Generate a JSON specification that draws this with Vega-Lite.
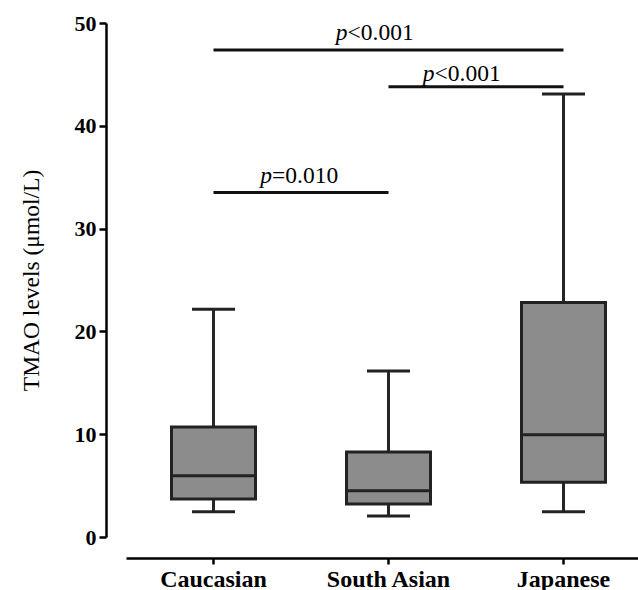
{
  "$schema": "https://vega.github.io/schema/vega-lite/v6.json",
  "autosize": {"type": "none"},
  "padding": {"left": 126, "top": 23, "right": 0, "bottom": 53},
  "width": 512,
  "height": 514,
  "background": "white",
  "datasets": {
    "boxes": [
      {"group": "Caucasian", "min": 2.45, "q1": 3.7, "median": 5.95, "q3": 10.7, "max": 22.15},
      {"group": "South Asian", "min": 2.05, "q1": 3.2, "median": 4.5, "q3": 8.27, "max": 16.15},
      {"group": "Japanese", "min": 2.45, "q1": 5.32, "median": 9.95, "q3": 22.8, "max": 43.1}
    ],
    "sig": [
      {"id": "a", "from": "Caucasian", "to": "South Asian", "line": 33.5, "text": 34.45, "p": "p", "rest": "=0.010"},
      {"id": "b", "from": "Caucasian", "to": "Japanese", "line": 47.37, "text": 48.35, "p": "p", "rest": "<0.001"},
      {"id": "c", "from": "South Asian", "to": "Japanese", "line": 43.8, "text": 44.39, "p": "p", "rest": "<0.001"}
    ]
  },
  "encoding": {
    "x": {
      "field": "group",
      "type": "nominal",
      "sort": ["Caucasian", "South Asian", "Japanese"],
      "scale": {"domain": ["Caucasian", "South Asian", "Japanese"], "range": [0, 525], "paddingInner": 0, "paddingOuter": 0},
      "axis": {
        "title": null,
        "labelAngle": 0,
        "labelFont": "Liberation Serif",
        "labelFontWeight": "bold",
        "labelFontSize": 24,
        "labelColor": "#000000",
        "labelPadding": 3,
        "tickSize": 6,
        "tickWidth": 2.5,
        "tickColor": "#000000",
        "domainColor": "#000000",
        "domainWidth": 2.5,
        "offset": 21
      }
    }
  },
  "layer": [
    {
      "data": {"name": "boxes"},
      "mark": {"type": "rule", "strokeWidth": 3, "color": "#262626"},
      "encoding": {
        "y": {
          "field": "min",
          "type": "quantitative",
          "scale": {"domain": [0, 50], "nice": false},
          "axis": {
            "values": [0, 10, 20, 30, 40, 50],
            "title": "TMAO levels (μmol/L)",
            "titleFont": "Liberation Serif",
            "titleFontSize": 23.5,
            "titleFontWeight": "normal",
            "titleColor": "#000000",
            "titlePadding": 31,
            "labelFont": "Liberation Serif",
            "labelFontWeight": "bold",
            "labelFontSize": 22,
            "labelColor": "#000000",
            "labelPadding": 3,
            "tickSize": 7,
            "tickWidth": 2.5,
            "tickColor": "#000000",
            "domainColor": "#000000",
            "domainWidth": 2.5,
            "grid": false,
            "offset": 20
          }
        },
        "y2": {"field": "max"}
      }
    },
    {
      "data": {"name": "boxes"},
      "mark": {"type": "bar", "width": 84, "fill": "#8c8c8c", "stroke": "#222222", "strokeWidth": 3},
      "encoding": {
        "y": {"field": "q1", "type": "quantitative"},
        "y2": {"field": "q3"}
      }
    },
    {
      "data": {"name": "boxes"},
      "mark": {"type": "tick", "size": 86, "thickness": 3, "color": "#222222", "opacity": 1},
      "encoding": {"y": {"field": "median", "type": "quantitative"}}
    },
    {
      "data": {"name": "boxes"},
      "mark": {"type": "tick", "size": 43, "thickness": 3, "color": "#222222", "opacity": 1},
      "encoding": {"y": {"field": "min", "type": "quantitative"}}
    },
    {
      "data": {"name": "boxes"},
      "mark": {"type": "tick", "size": 43, "thickness": 3, "color": "#222222", "opacity": 1},
      "encoding": {"y": {"field": "max", "type": "quantitative"}}
    },
    {
      "data": {"name": "sig"},
      "mark": {"type": "rule", "strokeWidth": 3, "color": "#111111"},
      "encoding": {
        "x": {"field": "from", "type": "nominal"},
        "x2": {"field": "to"},
        "y": {"field": "line", "type": "quantitative"}
      }
    },
    {
      "data": {"name": "sig"},
      "transform": [{"filter": "datum.id === 'a'"}],
      "layer": [
        {
          "mark": {"type": "text", "font": "Liberation Serif", "fontSize": 23.5, "fontStyle": "italic", "align": "right", "baseline": "alphabetic", "dx": -29, "color": "#000000"},
          "encoding": {
            "x": {"field": "from", "type": "nominal", "bandPosition": 1},
            "y": {"field": "text", "type": "quantitative"},
            "text": {"field": "p"}
          }
        },
        {
          "mark": {"type": "text", "font": "Liberation Serif", "fontSize": 23.5, "align": "left", "baseline": "alphabetic", "dx": -29, "color": "#000000"},
          "encoding": {
            "x": {"field": "from", "type": "nominal", "bandPosition": 1},
            "y": {"field": "text", "type": "quantitative"},
            "text": {"field": "rest"}
          }
        }
      ]
    },
    {
      "data": {"name": "sig"},
      "transform": [{"filter": "datum.id === 'b'"}],
      "layer": [
        {
          "mark": {"type": "text", "font": "Liberation Serif", "fontSize": 23.5, "fontStyle": "italic", "align": "right", "baseline": "alphabetic", "dx": 46.5, "color": "#000000"},
          "encoding": {
            "x": {"field": "from", "type": "nominal", "bandPosition": 1},
            "y": {"field": "text", "type": "quantitative"},
            "text": {"field": "p"}
          }
        },
        {
          "mark": {"type": "text", "font": "Liberation Serif", "fontSize": 23.5, "align": "left", "baseline": "alphabetic", "dx": 46.5, "color": "#000000"},
          "encoding": {
            "x": {"field": "from", "type": "nominal", "bandPosition": 1},
            "y": {"field": "text", "type": "quantitative"},
            "text": {"field": "rest"}
          }
        }
      ]
    },
    {
      "data": {"name": "sig"},
      "transform": [{"filter": "datum.id === 'c'"}],
      "layer": [
        {
          "mark": {"type": "text", "font": "Liberation Serif", "fontSize": 23.5, "fontStyle": "italic", "align": "right", "baseline": "alphabetic", "dx": -41.5, "color": "#000000"},
          "encoding": {
            "x": {"field": "from", "type": "nominal", "bandPosition": 1},
            "y": {"field": "text", "type": "quantitative"},
            "text": {"field": "p"}
          }
        },
        {
          "mark": {"type": "text", "font": "Liberation Serif", "fontSize": 23.5, "align": "left", "baseline": "alphabetic", "dx": -41.5, "color": "#000000"},
          "encoding": {
            "x": {"field": "from", "type": "nominal", "bandPosition": 1},
            "y": {"field": "text", "type": "quantitative"},
            "text": {"field": "rest"}
          }
        }
      ]
    }
  ],
  "config": {"view": {"stroke": null}}
}
